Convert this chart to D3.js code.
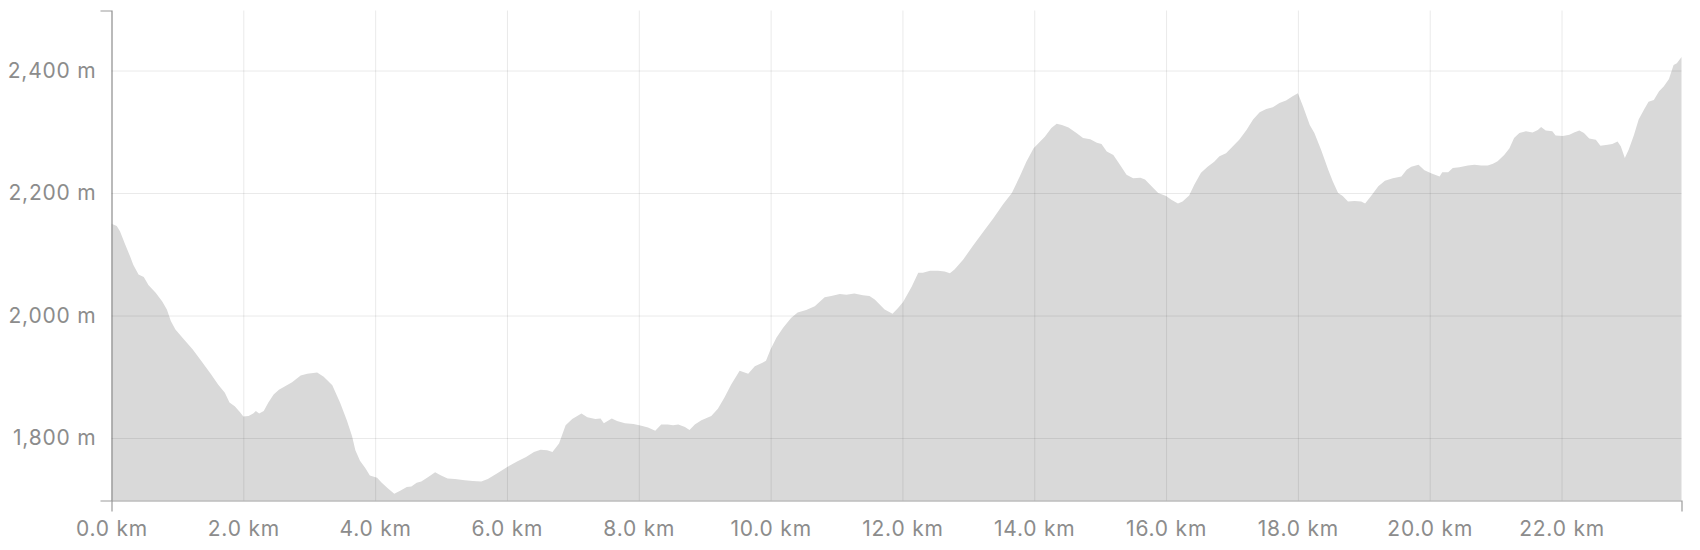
<!DOCTYPE html>
<html>
<head>
<meta charset="utf-8">
<script src="https://cdn.jsdelivr.net/npm/d3@7"></script>
<style>
  html, body { margin: 0; padding: 0; background: #fff; }
  svg { display: block; }
  .axis text { font-family: Inter, "Noto Sans", sans-serif; font-size: 21px; letter-spacing: 0.8px; fill: #8c8c8c; }
  .axis .tick line { stroke: rgba(0,0,0,0.085); }
  .axis .domain { stroke: #9c9c9c; stroke-width: 1.2; }
</style>
</head>
<body>
<svg id="chart" width="1700" height="550"></svg>
<script>
const distanceKm = [
  0, 0.08, 0.13, 0.2, 0.28, 0.33, 0.41, 0.49, 0.56, 0.67, 0.77, 0.84, 0.9, 0.97, 1.1, 1.23, 1.36, 1.51, 1.62, 1.72,
  1.79, 1.87, 1.95, 2.0, 2.08, 2.15, 2.19, 2.24, 2.31, 2.38, 2.46, 2.54, 2.64, 2.74, 2.87, 2.97, 3.12, 3.22, 3.35, 3.47,
  3.57, 3.65, 3.70, 3.77, 3.85, 3.92, 4.03, 4.1, 4.2, 4.29, 4.38, 4.48, 4.55, 4.63, 4.70, 4.80, 4.91, 5.0, 5.1, 5.21,
  5.36, 5.48, 5.61, 5.71, 5.86, 6.01, 6.16, 6.29, 6.41, 6.51, 6.61, 6.69, 6.79, 6.89, 6.99, 7.13, 7.22, 7.34, 7.42, 7.47,
  7.59, 7.67, 7.79, 7.92, 8.04, 8.14, 8.25, 8.34, 8.44, 8.52, 8.6, 8.7, 8.77, 8.85, 8.95, 9.1, 9.2, 9.3, 9.4, 9.53,
  9.66, 9.76, 9.86, 9.93, 10.0, 10.09, 10.19, 10.31, 10.41, 10.54, 10.67, 10.82, 10.92, 11.05, 11.15, 11.27, 11.4, 11.5, 11.58, 11.73,
  11.85, 11.93, 12.01, 12.14, 12.24, 12.31, 12.42, 12.54, 12.64, 12.72, 12.79, 12.92, 13.07, 13.23, 13.38, 13.53, 13.66, 13.78, 13.88, 13.99,
  14.06, 14.16, 14.26, 14.34, 14.42, 14.52, 14.64, 14.74, 14.85, 14.95, 15.02, 15.1, 15.2, 15.3, 15.4, 15.5, 15.61, 15.68, 15.78, 15.88,
  16.0, 16.08, 16.18, 16.25, 16.35, 16.43, 16.53, 16.63, 16.73, 16.81, 16.91, 17.01, 17.11, 17.22, 17.32, 17.42, 17.52, 17.62, 17.72, 17.82,
  17.92, 18.0, 18.08, 18.18, 18.25, 18.35, 18.46, 18.53, 18.61, 18.68, 18.76, 18.86, 18.96, 19.02, 19.11, 19.22, 19.32, 19.44, 19.57, 19.65,
  19.72, 19.83, 19.92, 20.03, 20.15, 20.19, 20.28, 20.35, 20.45, 20.58, 20.68, 20.78, 20.88, 20.96, 21.03, 21.13, 21.21, 21.28, 21.36, 21.46,
  21.56, 21.64, 21.69, 21.76, 21.86, 21.91, 22.02, 22.12, 22.19, 22.27, 22.34, 22.42, 22.52, 22.59, 22.70, 22.77, 22.85, 22.90, 22.96, 23.02,
  23.10, 23.17, 23.25, 23.32, 23.40, 23.48, 23.55, 23.63, 23.70, 23.75, 23.82
];
const elevationM = [
  2150, 2146, 2137, 2118, 2097, 2083, 2067, 2063, 2050, 2037, 2023, 2010, 1991, 1977, 1961, 1945, 1926, 1904, 1887, 1874,
  1858, 1852, 1842, 1835, 1836, 1840, 1844, 1840, 1844, 1858, 1871, 1879, 1885, 1891, 1902, 1905, 1907, 1900, 1886, 1857,
  1829, 1803, 1780, 1763, 1751, 1739, 1735, 1727, 1717, 1709, 1714, 1720, 1721, 1727, 1729, 1736, 1744, 1739, 1734, 1733,
  1731, 1730, 1729, 1733, 1743, 1753, 1762, 1769, 1777, 1781, 1780, 1777, 1791, 1821, 1831, 1840, 1834, 1831, 1832, 1824,
  1832, 1828, 1824, 1823, 1820, 1817, 1812, 1822, 1822, 1821, 1822, 1818, 1813, 1822, 1829, 1836, 1848, 1866, 1887, 1910,
  1905, 1917, 1922, 1926, 1945, 1964, 1980, 1996, 2005, 2009, 2015, 2030, 2032, 2035, 2034, 2036, 2033, 2032, 2026, 2010,
  2003, 2012, 2022, 2047, 2070, 2070, 2073, 2073, 2072, 2069, 2075, 2091, 2114, 2137, 2159, 2182, 2200, 2227, 2251, 2273,
  2281, 2292, 2306, 2313, 2311, 2307, 2298, 2290, 2288, 2282, 2280, 2268, 2262, 2246, 2230, 2224, 2225, 2222, 2211, 2200,
  2195, 2189, 2183, 2186, 2196, 2214, 2233, 2243, 2251, 2260, 2265, 2276, 2287, 2303, 2320, 2332, 2337, 2340, 2347, 2351,
  2358, 2363, 2341, 2311, 2298, 2271, 2238, 2219, 2200, 2195, 2186, 2187, 2186, 2183, 2195, 2211, 2220, 2224, 2227, 2238,
  2243, 2246, 2237, 2232, 2227, 2234, 2234, 2241, 2242, 2245, 2246, 2245, 2245, 2248, 2252, 2262, 2273, 2290, 2298, 2301,
  2299, 2303, 2308, 2302, 2301, 2294, 2293, 2295, 2299, 2302, 2298, 2289, 2287, 2277, 2279, 2280, 2284, 2276, 2257, 2271,
  2295, 2320, 2336, 2349, 2352, 2366, 2374, 2386, 2409, 2412, 2422
];
const xTickValues = [0, 2, 4, 6, 8, 10, 12, 14, 16, 18, 20, 22];
const yTickValues = [1800, 2000, 2200, 2400];
const yDomain = [1698, 2498];

const width = 1700, height = 550;
const margin = { left: 111.5, right: 18.5, top: 10.5, bottom: 49.5 };
const innerW = width - margin.left - margin.right;
const innerH = height - margin.top - margin.bottom;

const data = distanceKm.map((d, i) => ({ x: d, y: elevationM[i] }));

const x = d3.scaleLinear()
  .domain([0, distanceKm[distanceKm.length - 1]])
  .range([margin.left, width - margin.right]);
const y = d3.scaleLinear()
  .domain(yDomain)
  .range([height - margin.bottom, margin.top]);

const svg = d3.select("#chart");

const area = d3.area()
  .x(d => x(d.x))
  .y0(y(yDomain[0]))
  .y1(d => y(d.y))
  .curve(d3.curveLinear);

svg.append("path")
  .datum(data)
  .attr("fill", "#d9d9d9")
  .attr("d", area);

const fmtY = d3.format(",");
svg.append("g")
  .attr("class", "axis y-axis")
  .attr("transform", `translate(${margin.left},0)`)
  .call(d3.axisLeft(y)
    .tickValues(yTickValues)
    .tickSizeInner(-innerW)
    .tickSizeOuter(11)
    .tickPadding(15)
    .tickFormat(d => fmtY(d) + " m"));

svg.append("g")
  .attr("class", "axis x-axis")
  .attr("transform", `translate(0,${height - margin.bottom})`)
  .call(d3.axisBottom(x)
    .tickValues(xTickValues)
    .tickSizeInner(-innerH)
    .tickSizeOuter(11)
    .tickPadding(21)
    .tickFormat(d => d.toFixed(1) + " km"));
</script>
</body>
</html>
